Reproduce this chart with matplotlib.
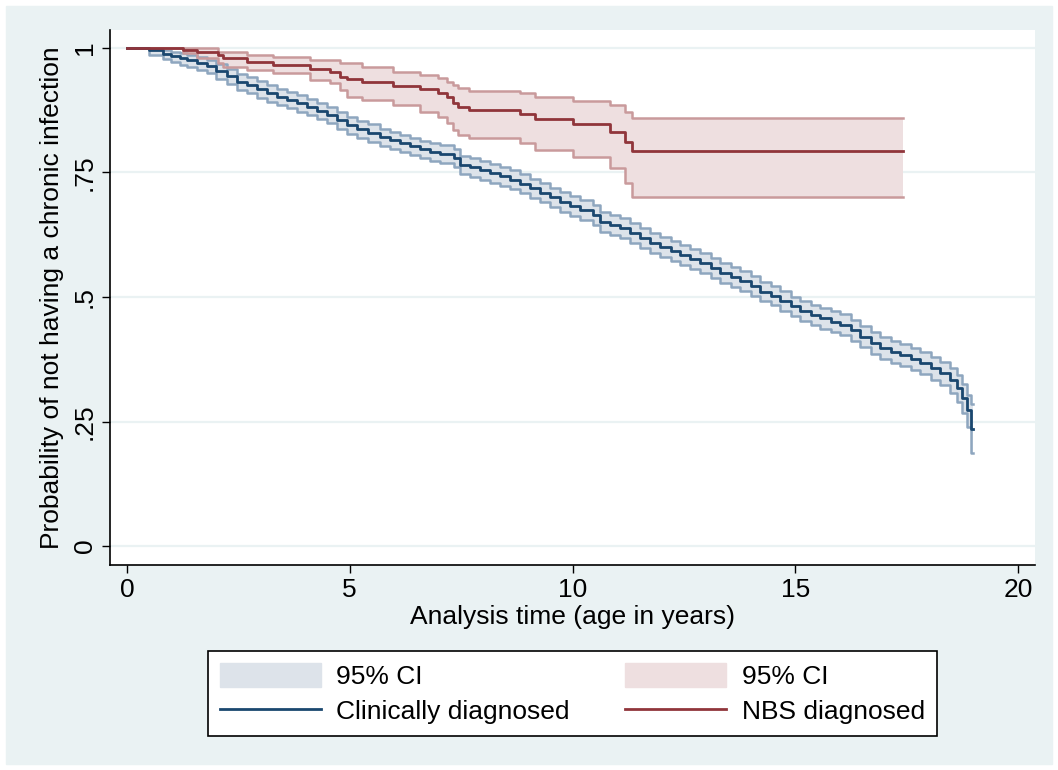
import matplotlib
matplotlib.use("Agg")
import matplotlib.pyplot as plt
import matplotlib.patches as mpatches
from matplotlib.lines import Line2D

plt.rcParams['font.family'] = ['Liberation Sans', 'DejaVu Sans']

# Clinically diagnosed: Kaplan-Meier estimate with 95% CI
clin_t = [0.0, 0.5, 0.8, 1.0, 1.2, 1.35, 1.57, 1.8, 2.0, 2.25, 2.47, 2.7, 2.92,
          3.14, 3.37, 3.6, 3.82, 4.04, 4.26, 4.49, 4.71, 4.94, 5.16, 5.4, 5.68,
          5.9, 6.13, 6.35, 6.58, 6.8, 7.03, 7.33, 7.47, 7.7, 7.92, 8.15, 8.37,
          8.6, 8.82, 9.05, 9.27, 9.5, 9.72, 9.95, 10.17, 10.46, 10.62, 10.85,
          11.07, 11.3, 11.52, 11.75, 11.96, 12.2, 12.41, 12.64, 12.86, 13.1,
          13.31, 13.55, 13.76, 14.0, 14.21, 14.45, 14.66, 14.9, 15.1, 15.35,
          15.56, 15.8, 16.0, 16.25, 16.45, 16.7, 16.9, 17.15, 17.35, 17.6, 17.8,
          18.05, 18.25, 18.47, 18.63, 18.74, 18.85, 18.94, 18.98]
clin_s = [1.0, 0.995, 0.988, 0.984, 0.979, 0.975, 0.970, 0.964, 0.953, 0.944,
          0.932, 0.926, 0.917, 0.909, 0.902, 0.896, 0.889, 0.882, 0.874, 0.866,
          0.855, 0.845, 0.837, 0.830, 0.821, 0.815, 0.809, 0.803, 0.797, 0.792,
          0.787, 0.779, 0.765, 0.760, 0.754, 0.748, 0.742, 0.735, 0.727, 0.718,
          0.709, 0.700, 0.690, 0.682, 0.675, 0.665, 0.651, 0.645, 0.638, 0.628,
          0.618, 0.609, 0.600, 0.592, 0.584, 0.576, 0.568, 0.558, 0.549, 0.541,
          0.533, 0.522, 0.511, 0.503, 0.492, 0.481, 0.471, 0.463, 0.457, 0.450,
          0.444, 0.433, 0.420, 0.408, 0.397, 0.390, 0.384, 0.375, 0.367, 0.357,
          0.347, 0.333, 0.317, 0.297, 0.273, 0.236, 0.236]
clin_lo = [1.0, 0.986, 0.977, 0.972, 0.966, 0.962, 0.956, 0.949, 0.937, 0.928,
           0.915, 0.909, 0.900, 0.892, 0.885, 0.879, 0.872, 0.865, 0.857, 0.849,
           0.838, 0.828, 0.820, 0.812, 0.803, 0.797, 0.791, 0.785, 0.779, 0.774,
           0.769, 0.760, 0.746, 0.741, 0.735, 0.729, 0.723, 0.716, 0.708, 0.699,
           0.690, 0.681, 0.670, 0.662, 0.655, 0.645, 0.631, 0.625, 0.618, 0.608,
           0.598, 0.589, 0.580, 0.572, 0.564, 0.556, 0.548, 0.538, 0.529, 0.521,
           0.513, 0.502, 0.491, 0.483, 0.472, 0.461, 0.451, 0.443, 0.436, 0.429,
           0.423, 0.412, 0.399, 0.386, 0.375, 0.368, 0.362, 0.353, 0.345, 0.334,
           0.324, 0.308, 0.289, 0.268, 0.240, 0.186, 0.186]
clin_hi = [1.0, 0.999, 0.995, 0.992, 0.989, 0.986, 0.982, 0.976, 0.967, 0.958,
           0.947, 0.941, 0.933, 0.925, 0.918, 0.912, 0.905, 0.898, 0.890, 0.882,
           0.872, 0.862, 0.854, 0.847, 0.838, 0.832, 0.826, 0.820, 0.814, 0.809,
           0.805, 0.797, 0.784, 0.779, 0.773, 0.767, 0.761, 0.754, 0.746, 0.737,
           0.728, 0.719, 0.710, 0.702, 0.695, 0.685, 0.671, 0.665, 0.658, 0.648,
           0.638, 0.629, 0.620, 0.612, 0.604, 0.596, 0.588, 0.578, 0.569, 0.561,
           0.553, 0.542, 0.531, 0.523, 0.512, 0.501, 0.491, 0.484, 0.478, 0.471,
           0.465, 0.454, 0.441, 0.430, 0.419, 0.412, 0.406, 0.397, 0.389, 0.380,
           0.370, 0.357, 0.343, 0.325, 0.304, 0.285, 0.285]

# NBS diagnosed
nbs_t = [0.0, 1.26, 1.57, 2.04, 2.15, 2.69, 3.28, 4.10, 4.56, 4.78, 4.93,
         5.27, 5.97, 6.58, 6.98, 7.18, 7.32, 7.43, 7.68, 8.82, 9.16, 10.01,
         10.84, 11.18, 11.33, 17.42]
nbs_s = [1.0, 0.996, 0.992, 0.986, 0.980, 0.972, 0.966, 0.957, 0.951, 0.942,
         0.937, 0.932, 0.924, 0.918, 0.910, 0.902, 0.890, 0.882, 0.875, 0.867,
         0.857, 0.847, 0.831, 0.811, 0.793, 0.793]
nbs_lo = [1.0, 0.990, 0.980, 0.970, 0.962, 0.956, 0.950, 0.936, 0.930, 0.916,
          0.902, 0.896, 0.886, 0.872, 0.861, 0.849, 0.835, 0.825, 0.819, 0.809,
          0.795, 0.781, 0.759, 0.729, 0.700, 0.700]
nbs_hi = [1.0, 1.0, 1.0, 0.992, 0.992, 0.986, 0.982, 0.976, 0.976, 0.970,
          0.970, 0.962, 0.952, 0.946, 0.940, 0.932, 0.926, 0.920, 0.914, 0.909,
          0.902, 0.894, 0.886, 0.872, 0.859, 0.859]

xticks = [0, 5, 10, 15, 20]
yticks = [0, 0.25, 0.5, 0.75, 1]
ylabels = ['0', '.25', '.5', '.75', '1']

navy = '#1a476f'
navy_ci = '#8ea6bf'
navy_fill = '#dde3ea'
maroon = '#90353b'
maroon_ci = '#c99a9c'
maroon_fill = '#eedfe0'
bg = '#eaf2f3'

fig = plt.figure(figsize=(10.58, 7.7), dpi=100)
fig.patches.append(mpatches.Rectangle((6 / 1058, 6 / 770), 1046 / 1058, 758 / 770,
                                      transform=fig.transFigure, color=bg, zorder=-10))

ax = fig.add_axes([110 / 1058, 1 - 565 / 770, 925 / 1058, 535 / 770])
ax.set_facecolor('white')

for y in yticks:
    ax.axhline(y, color=bg, lw=1.6, zorder=0)

# CI bands
ax.fill_between(clin_t, clin_lo, clin_hi, step='post', color=navy_fill, lw=0, zorder=1)
ax.fill_between(nbs_t, nbs_lo, nbs_hi, step='post', color=maroon_fill, lw=0, zorder=1)
for arr in (clin_lo, clin_hi):
    ax.step(clin_t, arr, where='post', color=navy_ci, lw=1.8, zorder=2)
for arr in (nbs_lo, nbs_hi):
    ax.step(nbs_t, arr, where='post', color=maroon_ci, lw=1.8, zorder=2)

ax.step(clin_t, clin_s, where='post', color=navy, lw=2, zorder=3)
ax.step(nbs_t, nbs_s, where='post', color=maroon, lw=2, zorder=3)

ax.set_xlim(-0.38, 20.38)
ax.set_ylim(-0.038, 1.036)
ax.set_xticks(xticks)
ax.set_yticks(yticks)
ax.set_yticklabels(ylabels, rotation=90, va='center')
ax.tick_params(labelsize=19, length=6, width=1, color='black')
for s in ('top', 'right'):
    ax.spines[s].set_visible(False)
for s in ('left', 'bottom'):
    ax.spines[s].set_linewidth(1.2)

ax.set_xlabel('Analysis time (age in years)', fontsize=19, labelpad=2)
ax.set_ylabel('Probability of not having a chronic infection', fontsize=19, labelpad=6)

handles = [
    mpatches.Patch(color=navy_fill),
    Line2D([], [], color=navy, lw=2),
    mpatches.Patch(color=maroon_fill),
    Line2D([], [], color=maroon, lw=2),
]
labels = ['95% CI', 'Clinically diagnosed', '95% CI', 'NBS diagnosed']
leg = fig.legend(handles, labels, ncol=2, fontsize=19,
                 bbox_to_anchor=(572.5 / 1058, 1 - 693.5 / 770),
                 loc='center', fancybox=False, edgecolor='black', framealpha=1,
                 handlelength=3.8, handleheight=1.05, handletextpad=0.6,
                 columnspacing=2.1, labelspacing=0.35, borderpad=0.45,
                 borderaxespad=0)
leg.get_frame().set_linewidth(1.2)

fig.savefig('out.png', dpi=100, facecolor='white')
